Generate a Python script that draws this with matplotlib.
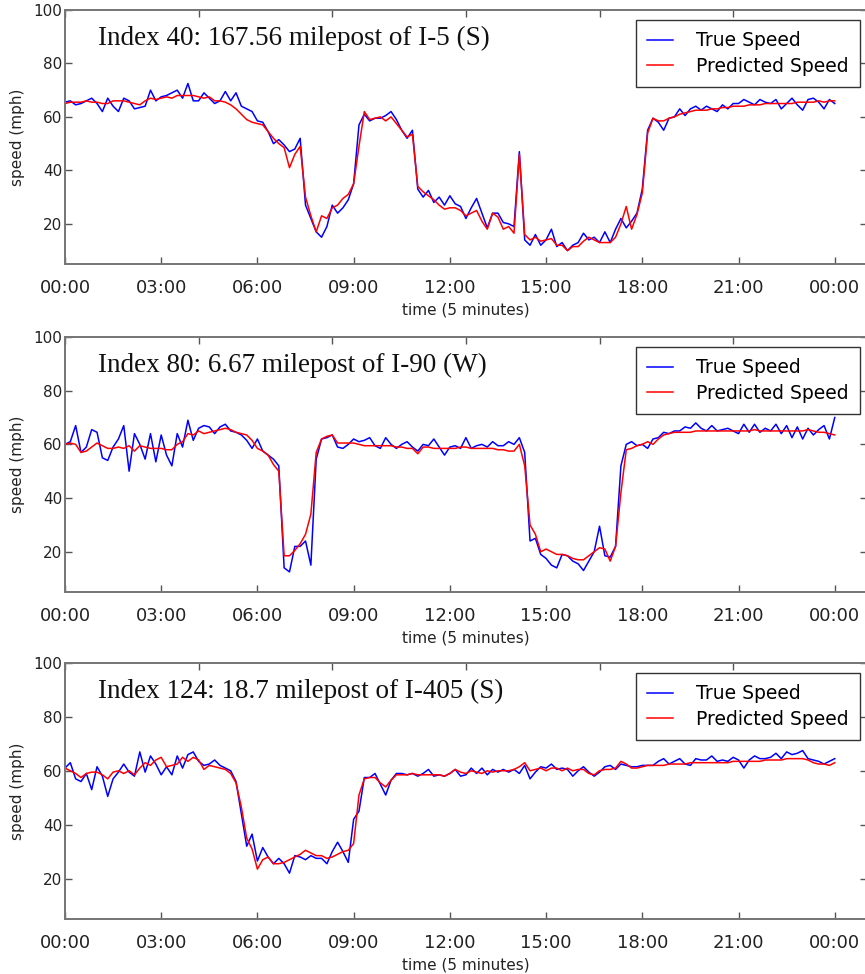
import numpy as np
import matplotlib
matplotlib.use("Agg")
import matplotlib.pyplot as plt

# speeds sampled every 10 minutes (index in 5-minute steps)
steps = np.arange(0, 289, 2)

tick_pos = [0, 36, 72, 108, 144, 180, 216, 252, 288]
tick_labels = ["00:00", "03:00", "06:00", "09:00", "12:00",
               "15:00", "18:00", "21:00", "00:00"]

titles = [
    "Index 40: 167.56 milepost of I-5 (S)",
    "Index 80: 6.67 milepost of I-90 (W)",
    "Index 124: 18.7 milepost of I-405 (S)",
]

true_i5 = [
    65.5, 66, 64.5, 65, 66, 67,
    65, 62, 67, 64, 62, 67,
    66, 63, 63.5, 64, 70, 66,
    67.5, 68, 69, 70, 67, 72.5,
    66, 66, 69, 67, 65, 66,
    69.5, 66, 69, 64, 63, 62,
    58.5, 58, 54.5, 50, 51.5, 49.5,
    47, 48, 52, 27, 22, 17,
    15, 19, 27, 24, 26, 29,
    35, 57, 61, 58.5, 59.5, 59.5,
    60.5, 62, 59, 55, 52, 55,
    33, 30, 32.5, 28, 30, 27,
    30.5, 27.5, 26.5, 22, 26, 29.5,
    24, 18.5, 24, 24, 20.5, 20,
    19, 47, 14, 12, 16, 12,
    14, 18, 11.5, 13, 10, 12,
    13, 16.5, 14, 15, 13, 17,
    13, 18, 22, 18.5, 21, 24,
    33, 55, 59.5, 58, 55, 59.5,
    60, 63, 60.5, 63, 64, 62.5,
    64, 63, 62, 64.5, 63, 65,
    65, 66.5, 65.5, 64.5, 66.5, 65.5,
    65, 66.5, 63, 65, 67, 64.5,
    62.5, 66.5, 67, 65.5, 63, 66.5,
    65,
]
pred_i5 = [
    65, 65.5, 65.5, 65.5, 66, 65.5,
    65.5, 65, 65, 66, 66, 66,
    65.5, 65, 64.5, 66, 67, 66.5,
    67, 67.5, 67, 68, 68, 68,
    68, 67.5, 67, 67.5, 66, 66,
    65.5, 64.5, 63, 61, 59, 58,
    57.5, 57, 54.5, 52, 50, 48.5,
    41, 46, 49, 30, 23, 17,
    23, 22, 26, 27, 29.5, 31,
    35, 49, 62, 59, 59.5, 60,
    58.5, 60, 57.5, 55, 52.5, 53.5,
    34, 32, 30.5, 29, 27, 25.5,
    26, 26, 25, 23, 24, 25,
    21, 18, 24, 22.5, 18, 19,
    16.5, 46, 16, 14, 15, 13.5,
    14, 14.5, 12, 12, 10, 11.5,
    11.5, 13.5, 15, 14, 13, 13,
    13, 15, 20, 26.5, 18, 23.5,
    31.5, 54, 59.5, 58.5, 58.5, 59.5,
    60, 61, 61.5, 62, 62.5, 62.5,
    62.5, 63, 63, 63.5, 63.5, 64,
    64, 64, 64.5, 64.5, 64.5, 65,
    65, 65, 65, 65, 65, 65.5,
    65.5, 65.5, 65.5, 66, 65.5, 66,
    66,
]

true_i90 = [
    60, 61, 67, 57, 59, 65.5,
    64.5, 55, 54, 59, 62, 67,
    50, 64, 60, 54.5, 64, 53.5,
    63.5, 56, 52, 64, 59, 69,
    61.5, 66, 67, 66.5, 64, 66.5,
    67.5, 65, 64.5, 63.5, 61.5, 58.5,
    62, 57.5, 56, 54.5, 52, 14,
    12.5, 22, 22, 24, 15, 54.5,
    62, 62.5, 63.5, 59, 58.5, 60,
    62, 61, 61.5, 62.5, 59.5, 58.5,
    62.5, 60, 58.5, 60, 61, 59,
    57.5, 60, 59.5, 62, 59, 56,
    59, 59.5, 58.5, 62.5, 58.5, 59.5,
    60, 59, 61, 59.5, 59.5, 61,
    60, 62.5, 57, 24, 25, 19,
    17.5, 15, 14, 19, 18.5, 16.5,
    15.5, 13, 16.5, 20, 29.5, 18.5,
    18, 22, 52, 60, 61, 59.5,
    60, 58.5, 62, 62.5, 64.5, 64,
    65, 65, 66.5, 66, 68, 66,
    65, 67, 65, 65.5, 66, 65,
    64, 67.5, 64.5, 67.5, 64.5, 66,
    65, 67.5, 64, 67, 62.5, 66.5,
    62, 66, 63.5, 65.5, 67, 62,
    70,
]
pred_i90 = [
    60, 60.5, 60, 57, 57.5, 59,
    60.5, 59.5, 58.5, 58.5, 59, 58.5,
    59.5, 57.5, 59.5, 59, 58.5, 58.5,
    58.5, 58, 58, 60, 61, 64,
    63.5, 65, 64, 64.5, 65, 65.5,
    66, 65.5, 64.5, 64, 63.5, 61.5,
    58.5, 57.5, 56, 52.5, 50, 18.5,
    18.5, 20.5, 23, 26.5, 34, 57,
    62, 63, 63.5, 60.5, 60.5, 60.5,
    60.5, 60, 59.5, 59.5, 59.5, 59.5,
    59.5, 59.5, 59, 59, 58.5, 58.5,
    56.5, 59, 59, 58.5, 58.5, 58.5,
    58.5, 58.5, 59, 59, 58.5, 58.5,
    58.5, 58.5, 58.5, 58, 58, 57.5,
    57.5, 60, 52, 30, 26.5, 20,
    21, 20, 19, 19, 18.5, 17.5,
    17, 17, 18.5, 20, 21.5, 21,
    16.5, 22, 42, 58, 58.5, 59.5,
    60, 61, 60, 62, 63.5, 64,
    64.5, 64.5, 64.5, 64.5, 65, 65,
    65, 65, 65, 65, 65, 65,
    65, 65, 65, 65.5, 65, 65,
    65, 65, 65, 65, 65, 65,
    65, 65.5, 65, 64.5, 64.5, 64,
    63.5,
]

true_i405 = [
    61, 63, 57, 56, 59, 53,
    61.5, 58, 50.5, 57, 59.5, 62.5,
    59.5, 58, 67, 59.5, 65.5, 62.5,
    58.5, 61.5, 58.5, 65.5, 61, 66,
    67, 63.5, 62, 62.5, 64, 62,
    61, 60, 56, 44, 32, 36.5,
    26.5, 31.5, 28, 25.5, 27.5, 25.5,
    22, 28.5, 28, 27, 28.5, 27.5,
    27.5, 25.5, 30, 33.5, 30, 26,
    42, 45, 57.5, 57.5, 59, 55,
    51, 56.5, 59, 59, 58.5, 59,
    58, 59, 60.5, 58, 58.5, 58,
    59, 60.5, 58, 58.5, 61, 59,
    61, 58.5, 60.5, 59.5, 60.5, 59.5,
    60.5, 59, 62, 57, 59.5, 61.5,
    61, 62.5, 60.5, 61, 60.5, 58,
    60, 61.5, 59.5, 58, 59.5, 61.5,
    62, 60.5, 62.5, 62, 61.5, 61.5,
    62, 62, 62, 63.5, 64.5, 62.5,
    63.5, 64.5, 62.5, 62, 64.5, 64,
    64, 65.5, 63.5, 64, 63.5, 65,
    64, 61, 64, 65.5, 64.5, 64.5,
    65, 66.5, 64.5, 67, 66, 66.5,
    67.5, 64.5, 64, 63.5, 62.5, 63.5,
    64.5,
]
pred_i405 = [
    61, 60, 59, 57.5, 59, 59.5,
    59.5, 58.5, 57, 59.5, 60, 59,
    60, 58.5, 61, 63, 62, 64,
    65, 61.5, 62, 62.5, 65, 63.5,
    65, 64, 60.5, 62, 61.5, 61,
    60.5, 59, 55.5, 46.5, 35, 31,
    23.5, 27, 28, 25.5, 25.5, 26,
    27, 28, 29, 30.5, 29.5, 28.5,
    28.5, 27.5, 28, 29, 30, 30.5,
    33, 51, 57, 57.5, 57.5, 55.5,
    54, 56.5, 58.5, 58.5, 58.5, 59,
    58.5, 58.5, 58.5, 58.5, 58.5, 58,
    59, 60.5, 59.5, 59, 60, 59.5,
    59, 60, 59.5, 60, 60, 60,
    60.5, 61.5, 63, 60, 60.5, 61,
    60, 61, 61, 60, 61, 60,
    60.5, 60.5, 59, 58.5, 60, 60.5,
    60.5, 61, 63.5, 62.5, 61, 61,
    61.5, 62, 62, 62, 62, 62.5,
    62.5, 62.5, 62.5, 63, 63, 63,
    63, 63, 63, 63, 63, 63.5,
    63.5, 63.5, 63.5, 63.5, 63.5, 64,
    64, 64, 64, 64.5, 64.5, 64.5,
    64.5, 64, 63, 62.5, 62.5, 62,
    63,
]

true_series = [true_i5, true_i90, true_i405]
pred_series = [pred_i5, pred_i90, pred_i405]

# axes rectangles in figure fractions (left, bottom, width, height)
rects = [
    [0.0751, 0.729, 0.927, 0.2608],
    [0.0751, 0.3922, 0.927, 0.2618],
    [0.0751, 0.0565, 0.927, 0.2628],
]

fig = plt.figure(figsize=(8.65, 9.74), dpi=100)

for k in range(3):
    ax = fig.add_axes(rects[k])

    ax.plot(steps, true_series[k], color="#0000ff", lw=1.1, label="True Speed")
    ax.plot(steps, pred_series[k], color="#ff0000", lw=1.1, label="Predicted Speed")

    ax.set_xlim(0, 300)
    ax.set_ylim(5, 100)

    ax.set_xticks(tick_pos)
    ax.set_xticklabels(tick_labels, fontsize=13, color="#222222")
    ax.set_yticks([20, 40, 60, 80, 100])
    ax.tick_params(axis="y", labelsize=11, colors="#222222", pad=2)
    ax.tick_params(direction="in", length=5, width=1, right=True,
                   color="#555555")
    ax.tick_params(axis="x", pad=11)

    # top edge carries the raw index ticks
    top = ax.twiny()
    top.set_xlim(0, 300)
    top.set_xticks(range(0, 301, 50))
    top.tick_params(direction="in", length=5, width=1, labeltop=False,
                    color="#555555")

    for a in (ax, top):
        for s in a.spines.values():
            s.set_color("#777777")
            s.set_linewidth(1.3)

    ax.set_xlabel("time (5 minutes)", fontsize=11, color="#222222")
    ax.xaxis.set_label_coords(0.5, -0.152)
    ax.set_ylabel("speed (mph)", fontsize=11, color="#222222")
    ax.yaxis.set_label_coords(-0.05, 0.5)

    ax.text(0.041, 0.862, titles[k], transform=ax.transAxes,
            fontsize=19.5, family="Liberation Serif", va="baseline",
            color="#111111")

    leg = ax.legend(loc="upper right", bbox_to_anchor=(0.991, 0.961),
                    borderaxespad=0, fontsize=13.5, handlelength=1.4,
                    handletextpad=1.2, borderpad=0.6, labelspacing=0.35,
                    fancybox=False, framealpha=1)
    leg.get_frame().set_edgecolor("#333333")
    leg.get_frame().set_linewidth(1.0)

plt.savefig("out.png", dpi=100)
